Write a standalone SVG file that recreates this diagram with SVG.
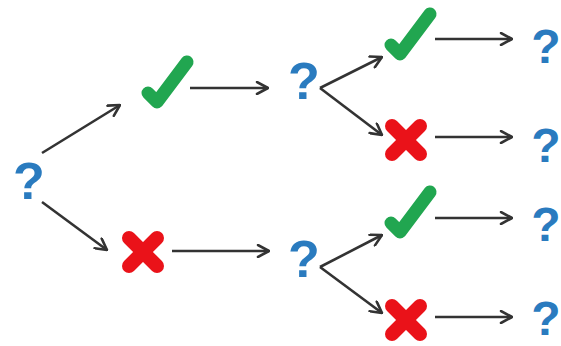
<svg xmlns="http://www.w3.org/2000/svg" width="561" height="346" viewBox="0 0 561 346">
  <style>
    .q { font-family: "Liberation Sans", Arial, sans-serif; font-weight: bold; font-size: 52px; fill: #2a7bbf; text-anchor: middle; }
    .qr { font-size: 48px; }
    .arrow { fill: none; stroke: #333333; stroke-width: 2.6; marker-end: url(#head); }
    .check { fill: none; stroke: #21a650; stroke-width: 13; stroke-linecap: round; stroke-linejoin: round; }
    .cross { fill: none; stroke: #ea1219; stroke-width: 14; stroke-linecap: round; }
  </style>
  <defs>
    <marker id="head" viewBox="0 0 14 14" refX="13" refY="7" markerWidth="14" markerHeight="14" markerUnits="userSpaceOnUse" orient="auto">
      <path d="M2,1 L13,7 L2,13" fill="none" stroke="#333333" stroke-width="2.6" stroke-linecap="round" stroke-linejoin="round"/>
    </marker>
    <polyline id="chk" class="check" points="-19,4 -10,13 20,-27"/>
    <g id="crs">
      <line class="cross" x1="-14" y1="-14" x2="14" y2="14"/>
      <line class="cross" x1="-14" y1="14" x2="14" y2="-14"/>
    </g>
  </defs>
  <rect width="561" height="346" fill="#ffffff"/>

  <g id="connectors">
    <line class="arrow" x1="42" y1="153" x2="120" y2="105"/>
    <line class="arrow" x1="42" y1="202" x2="107" y2="250"/>
    <line class="arrow" x1="190" y1="88" x2="268" y2="88"/>
    <line class="arrow" x1="172" y1="251" x2="269" y2="251"/>
    <line class="arrow" x1="320" y1="88" x2="382" y2="57"/>
    <line class="arrow" x1="320" y1="88" x2="382" y2="135"/>
    <line class="arrow" x1="320" y1="267" x2="382" y2="235"/>
    <line class="arrow" x1="320" y1="267" x2="382" y2="313"/>
    <line class="arrow" x1="435" y1="39" x2="512" y2="39"/>
    <line class="arrow" x1="435" y1="137" x2="512" y2="137"/>
    <line class="arrow" x1="435" y1="218" x2="512" y2="218"/>
    <line class="arrow" x1="435" y1="317" x2="512" y2="317"/>
  </g>

  <g id="root"><text class="q" x="29" y="199">?</text></g>
  <g id="yes1"><use href="#chk" x="167" y="89"/></g>
  <g id="no1"><use href="#crs" x="143" y="252"/></g>
  <g id="q-top"><text class="q" x="304" y="99">?</text></g>
  <g id="q-bottom"><text class="q" x="304" y="277">?</text></g>
  <g id="yes2"><use href="#chk" x="410" y="41"/></g>
  <g id="no2"><use href="#crs" x="406" y="140"/></g>
  <g id="yes3"><use href="#chk" x="410" y="219"/></g>
  <g id="no3"><use href="#crs" x="406" y="320"/></g>
  <g id="r1"><text class="q qr" x="546" y="63">?</text></g>
  <g id="r2"><text class="q qr" x="546" y="162">?</text></g>
  <g id="r3"><text class="q qr" x="546" y="241">?</text></g>
  <g id="r4"><text class="q qr" x="546" y="335">?</text></g>
</svg>
